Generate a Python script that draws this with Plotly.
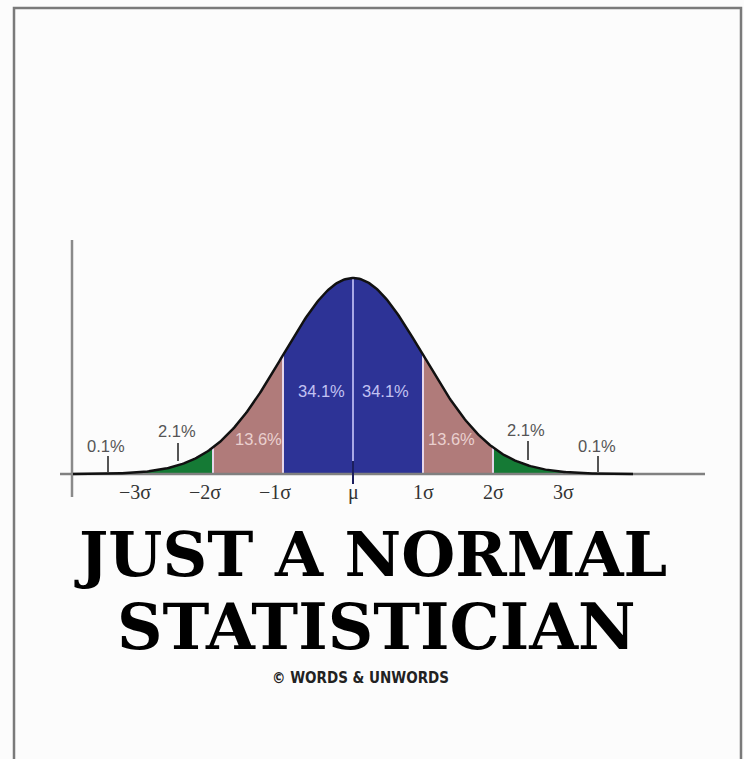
import numpy as np
import plotly.graph_objects as go

W, H = 744, 759
# pixel mapping (page pixels)
X0, SIG = 353.0, 70.0      # pixel of mean, pixels per sigma
Y0, AMP = 474.0, 196.0     # baseline pixel, pixels of peak height

# ---- data ----
band_edges = [-4, -3, -2, -1, 0, 1, 2, 3, 4]
band_pct = [0.1, 2.1, 13.6, 34.1, 34.1, 13.6, 2.1, 0.1]
band_colors = ["#1a1a1a", "#157a35", "#b07b7a", "#2d3396",
               "#2d3396", "#b07b7a", "#157a35", "#1a1a1a"]
tick_pos = [-3, -2, -1, 0, 1, 2, 3]
tick_labels = ["\u22123\u03c3", "\u22122\u03c3", "\u22121\u03c3", "\u03bc", "1\u03c3", "2\u03c3", "3\u03c3"]
title_lines = ["JUST A NORMAL", "STATISTICIAN"]
credit = "\u00a9 WORDS & UNWORDS"


def pdf(x):
    return np.exp(-0.5 * np.asarray(x) ** 2)


def py(p):  # page pixel y -> data y
    return (Y0 - p) / AMP


def px(p):  # page pixel x -> data x
    return (p - X0) / SIG


fig = go.Figure()

# filled bands
for a, b, col in zip(band_edges[:-1], band_edges[1:], band_colors):
    xs = np.linspace(a, b, 60)
    xx = np.concatenate([xs, [b, a]])
    yy = np.concatenate([pdf(xs), [0, 0]])
    fig.add_trace(go.Scatter(x=xx, y=yy, fill="toself", fillcolor=col,
                             line=dict(width=0), mode="lines", hoverinfo="skip"))

# divider lines
for e in [-2, -1, 1, 2]:
    fig.add_trace(go.Scatter(x=[e, e], y=[0, pdf(e)], mode="lines",
                             line=dict(color="#e6d6ea", width=2), hoverinfo="skip"))
# mean line
fig.add_trace(go.Scatter(x=[0, 0], y=[py(462), 1], mode="lines",
                         line=dict(color="#a9a9e6", width=2), hoverinfo="skip"))

# axes
fig.add_trace(go.Scatter(x=[px(60), px(705)], y=[0, 0], mode="lines",
                         line=dict(color="#808080", width=2.5), hoverinfo="skip"))
fig.add_trace(go.Scatter(x=[px(72), px(72)], y=[py(240), py(497)], mode="lines",
                         line=dict(color="#8a8a8a", width=2.5), hoverinfo="skip"))

# curve outline
xc = np.linspace(-4, 4, 400)
fig.add_trace(go.Scatter(x=xc, y=pdf(xc), mode="lines",
                         line=dict(color="#111111", width=2.5), hoverinfo="skip"))

# mean tick below
fig.add_trace(go.Scatter(x=[0, 0], y=[py(461), py(484)], mode="lines",
                         line=dict(color="#1c1f5e", width=2), hoverinfo="skip"))

# small marker ticks for tail percentages
for xv, top, bot in [(-3.5, 456, 472), (-2.5, 443, 461), (2.5, 441, 460), (3.5, 456, 473)]:
    fig.add_trace(go.Scatter(x=[xv, xv], y=[py(top), py(bot)], mode="lines",
                             line=dict(color="#555555", width=2), hoverinfo="skip"))

ann = []
# percentage labels
pct_pos = [(106, 446), (177, 431), (258, 439), (321, 391),
           (385, 391), (451, 439), (526, 430), (597, 446)]
pct_cols = ["#555555", "#555555", "#ead0cf", "#c2c2f2",
            "#c2c2f2", "#ead0cf", "#555555", "#555555"]
for v, (x, y), c in zip(band_pct, pct_pos, pct_cols):
    ann.append(dict(x=px(x), y=py(y), text=f"{v}%", showarrow=False,
                    font=dict(family="Liberation Sans, Arial", size=16.5, color=c),
                    xanchor="center", yanchor="middle"))

# sigma tick labels
for t, lab in zip(tick_pos, tick_labels):
    ann.append(dict(x=t - (0.12 if t < 0 else 0), y=py(492), text=lab, showarrow=False,
                    font=dict(family="Liberation Serif, Times New Roman", size=20, color="#333333"),
                    xanchor="center", yanchor="middle"))

# title
ann.append(dict(x=px(370), y=py(554), text=f"<b>{title_lines[0]}</b>", showarrow=False,
                font=dict(family="DejaVu Serif", size=62, color="#000000"),
                xanchor="center", yanchor="middle"))
ann.append(dict(x=px(376), y=py(627), text=f"<b>{title_lines[1]}</b>", showarrow=False,
                font=dict(family="DejaVu Serif", size=63, color="#000000"),
                xanchor="center", yanchor="middle"))
ann.append(dict(x=px(360), y=py(678), text=f"<b>{credit}</b>", showarrow=False,
                font=dict(family="DejaVu Sans Condensed, DejaVu Sans", size=15, color="#222222"),
                xanchor="center", yanchor="middle"))

fig.update_layout(
    width=W, height=H,
    margin=dict(l=0, r=0, t=0, b=0),
    paper_bgcolor="#fcfcfc", plot_bgcolor="#fcfcfc",
    showlegend=False,
    xaxis=dict(range=[px(0), px(W)], visible=False, fixedrange=True),
    yaxis=dict(range=[py(H), py(0)], visible=False, fixedrange=True),
    annotations=ann,
    shapes=[dict(type="rect", xref="x", yref="y",
                 x0=px(14), x1=px(741), y0=py(790), y1=py(8),
                 line=dict(color="#7a7a7a", width=2.5), fillcolor="rgba(0,0,0,0)")],
)

fig.write_html("out.html", config={"displayModeBar": False},
               post_script="document.body.style.margin='0';document.body.style.overflow='hidden';")
